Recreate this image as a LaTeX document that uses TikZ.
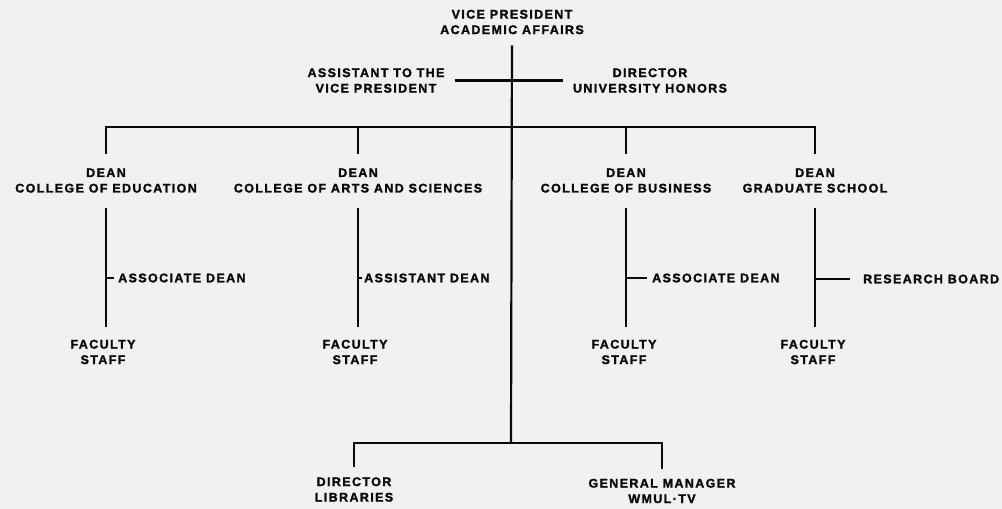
\documentclass[tikz,border=0pt]{standalone}
\usepackage{fontspec}
\setmainfont[LetterSpace=11, BoldFeatures={FakeBold=1.8}]{Liberation Sans}
\definecolor{bgcol}{RGB}{241,241,241}
\definecolor{ink}{RGB}{10,10,10}
\begin{document}
\begin{tikzpicture}[x=1pt,y=-1pt,
  lbl/.style={inner sep=0pt, align=center, text=ink, font=\bfseries\fontsize{12.5}{15.5}\selectfont},
  side/.style={lbl, anchor=west},
  conn/.style={draw=ink, line width=2.2pt}]
\fill[bgcol] (0,0) rectangle (1002,509);
\useasboundingbox (0,0) rectangle (1002,509);

% top
\node[lbl] (vp) at (512,22) {VICE PRESIDENT\\ACADEMIC AFFAIRS};
\node[lbl] (asst) at (376,80.5) {ASSISTANT TO THE\\VICE PRESIDENT};
\node[lbl] (dir) at (650,80.5) {DIRECTOR\\UNIVERSITY HONORS};
\coordinate (hub) at (511,127);
\coordinate (foot) at (511,443);

% deans
\node[lbl] (ded) at (106,180.5) {DEAN\\COLLEGE OF EDUCATION};
\node[lbl] (dar) at (358,180.5) {DEAN\\COLLEGE OF ARTS AND SCIENCES};
\node[lbl] (dbu) at (626,180.5) {DEAN\\COLLEGE OF BUSINESS};
\node[lbl] (dgr) at (815,180.5) {DEAN\\GRADUATE SCHOOL};

% side offices
\node[side] (aed) at (118,278) {ASSOCIATE DEAN};
\node[side] (aar) at (364,278) {ASSISTANT DEAN};
\node[side] (abu) at (652,278) {ASSOCIATE DEAN};
\node[side] (rgr) at (863,279) {RESEARCH BOARD};

% faculty
\node[lbl] (fed) at (103,352) {FACULTY\\STAFF};
\node[lbl] (far) at (355,352) {FACULTY\\STAFF};
\node[lbl] (fbu) at (624,352) {FACULTY\\STAFF};
\node[lbl] (fgr) at (813,352) {FACULTY\\STAFF};

% bottom
\node[lbl] (lib) at (354,489.5) {DIRECTOR\\LIBRARIES};
\node[lbl] (gm) at (662,491) {GENERAL MANAGER\\WMUL·TV};

% connectors
\draw[conn, shorten <=11pt] (vp.south) -- (foot);
\draw[conn, shorten <=10pt, shorten >=10pt] (asst.east) -- (dir.west);
\foreach \d in {ded,dar,dbu,dgr}
  \draw[conn, shorten <=14pt] (\d.north) |- (hub);
\foreach \d/\f in {ded/fed,dar/far,dbu/fbu,dgr/fgr}
  \draw[conn, shorten <=15pt, shorten >=13pt] (\d.south) -- (\d.south |- \f.north);
\draw[conn, shorten >=4pt] (ded.south |- aed.west) -- (aed.west);
\draw[conn, shorten >=2pt] (dar.south |- aar.west) -- (aar.west);
\draw[conn, shorten >=5pt] (dbu.south |- abu.west) -- (abu.west);
\draw[conn, shorten >=13pt] (dgr.south |- rgr.west) -- (rgr.west);
\draw[conn, shorten >=10pt] (foot) -| (lib.north);
\draw[conn, shorten >=10pt] (foot) -| (gm.north);
\end{tikzpicture}
\end{document}
